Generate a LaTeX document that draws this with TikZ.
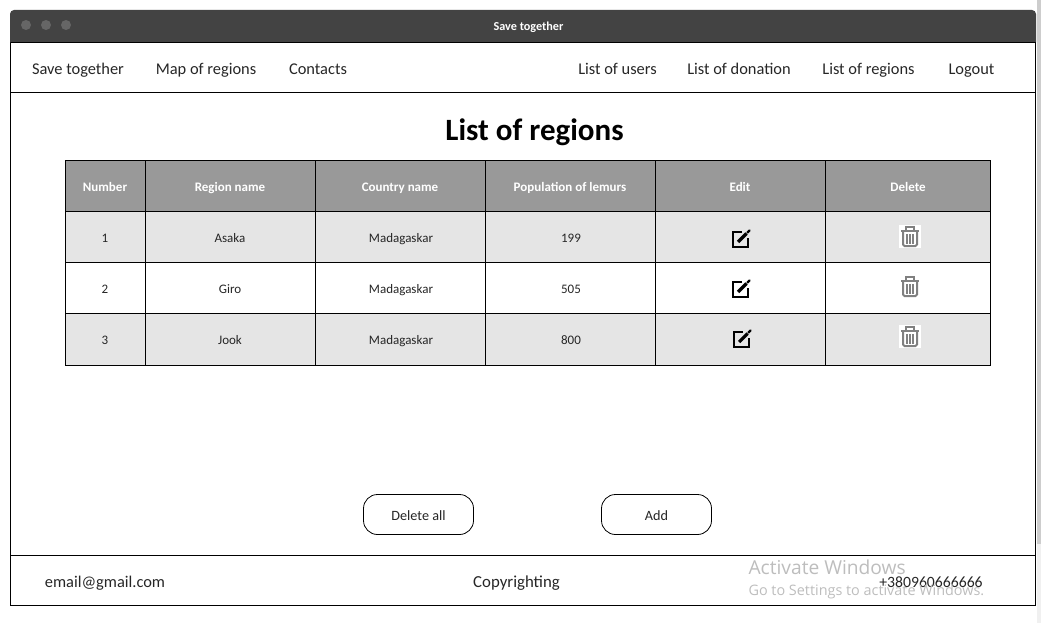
\documentclass[tikz,border=0pt]{standalone}
\usepackage{fontspec}
\usepackage{xcolor}
\setmainfont{Carlito}
\newfontfamily\winfont{Open Sans}
\definecolor{barcol}{HTML}{434343}
\definecolor{dotcol}{HTML}{666666}
\definecolor{headcol}{HTML}{999999}
\definecolor{rowcol}{HTML}{E5E5E5}
\definecolor{trashcol}{HTML}{808080}
\definecolor{wincol}{HTML}{BDBDBD}
\definecolor{scrollcol}{HTML}{CDCDCD}
\definecolor{tracecol}{HTML}{F0F0F0}
\tikzset{
    navlabel/.style={anchor=base, font=\fontsize{16.4}{18}\selectfont, text=black!85},
    headlabel/.style={anchor=base, font=\fontsize{13}{14}\selectfont\bfseries, text=white},
    celllabel/.style={anchor=base, font=\fontsize{13}{14}\selectfont, text=black!85},
    btn/.style={draw, thick, rounded corners=14pt, fill=white, minimum width=110pt, minimum height=40pt, text height=11.5pt, text depth=0pt, font=\fontsize{14.2}{15}\selectfont, text=black!85},
}
\begin{document}
\begin{tikzpicture}[x=1pt,y=-1pt,line width=1pt]
    \useasboundingbox (0,0) rectangle (1041,623);

    % scroll bar
    \fill[tracecol] (1036.5,0) rectangle (1041,623);
    \fill[scrollcol] (1036.5,0) rectangle (1041,544);

    % window
    \draw (10.5,42.5) rectangle (1035.5,605.5);
    \fill[barcol] (10,42.5) [rounded corners=4pt] -- (10,10) -- (1036,10) [sharp corners] -- (1036,42.5) -- cycle;
    \draw (10.5,42.5) -- (1035.5,42.5);
    \foreach \x in {26,46,66}
        \fill[dotcol] (\x,25) circle (5);
    \node[anchor=base, font=\fontsize{12.2}{14}\selectfont\bfseries, text=white] (wintitle) at (528.5,30.7) {Save together};

    % nav bar
    \draw (10.5,92.5) -- (1035.5,92.5);
    \node[navlabel] (navhome) at (78,74.7) {Save together};
    \node[navlabel] (navmap) at (206,74.7) {Map of regions};
    \node[navlabel] (navcontacts) at (318,74.7) {Contacts};
    \node[navlabel] (navusers) at (617.5,74.7) {List of users};
    \node[navlabel] (navdonation) at (739,74.7) {List of donation};
    \node[navlabel] (navregions) at (868.5,74.7) {List of regions};
    \node[navlabel] (navlogout) at (971.5,74.7) {Logout};

    \node[anchor=base, font=\fontsize{31}{34}\selectfont\bfseries] (pagetitle) at (534.5,140) {List of regions};

    % table
    \fill[headcol] (65,160) rectangle (990,211);
    \fill[rowcol] (65,211) rectangle (990,262);
    \fill[rowcol] (65,313) rectangle (990,365);
    \draw (65.5,160.5) rectangle (990.5,365.5);
    \foreach \y in {211.5,262.5,313.5}
        \draw (65.5,\y) -- (990.5,\y);
    \foreach \x in {145.5,315.5,485.5,655.5,825.5}
        \draw (\x,160.5) -- (\x,365.5);

    \node[headlabel] (headnumber) at (105,191) {Number};
    \node[headlabel] (headregion) at (230,191) {Region name};
    \node[headlabel] (headcountry) at (400,191) {Country name};
    \node[headlabel] (headlemurs) at (570,191) {Population of lemurs};
    \node[headlabel] (headedit) at (740,191) {Edit};
    \node[headlabel] (headdelete) at (908,191) {Delete};

    \foreach \y/\num/\region/\lemurs in {242/1/Asaka/199, 293/2/Giro/505, 344/3/Jook/800} {
        \node[celllabel] (num\num) at (105,\y) {\num};
        \node[celllabel] (region\num) at (230,\y) {\region};
        \node[celllabel] (country\num) at (401,\y) {Madagaskar};
        \node[celllabel] (lemurs\num) at (571,\y) {\lemurs};
    }

    % edit icons
    \foreach \x/\y in {741/239, 741/289, 742/339} {
        \draw[line width=2.2pt] (\x+1,\y-7) -- (\x-8,\y-7) -- (\x-8,\y+8) -- (\x+7,\y+8) -- (\x+7,\y-1);
        \draw[line width=3.2pt] (\x-3,\y+3) -- (\x+5.5,\y-5.5);
        \draw[line width=2.4pt, line cap=round] (\x+6.5,\y-6.5) -- (\x+8.5,\y-8.5);
    }

    % trash icons
    \fill[white] (899,225) rectangle (921,248);
    \fill[white] (899,325) rectangle (921,348);
    \foreach \y in {236.5,286.5,336.5} {
        \draw[trashcol, line width=2.2pt] (901,\y-5.5) -- (919,\y-5.5);
        \draw[trashcol, line width=1.6pt] (906,\y-6) -- (906,\y-9.5) -- (914,\y-9.5) -- (914,\y-6);
        \draw[trashcol, line width=2pt, rounded corners=1.5pt] (903,\y-4.5) -- (903,\y+9.5) -- (917,\y+9.5) -- (917,\y-4.5);
        \foreach \x in {907,910,913}
            \draw[trashcol, line width=1.2pt] (\x,\y-2.5) -- (\x,\y+7);
    }

    % buttons
    \node[btn] (btndelete) at (418.5,514.5) {Delete all};
    \node[btn] (btnadd) at (656.5,514.5) {Add};

    % footer
    \draw (10.5,555.5) -- (1035.5,555.5);
    \node[navlabel, font=\fontsize{16.4}{18}\selectfont] (footmail) at (105,587) {email@gmail.com};
    \node[navlabel, font=\fontsize{16.8}{18}\selectfont] (footcopy) at (516.5,587) {Copyrighting};
    \node[navlabel, font=\fontsize{15.7}{18}\selectfont] (footphone) at (931,587) {+380960666666};

    \node[anchor=base west, font=\winfont\fontsize{19.2}{22}\selectfont, text=wincol] (winactivate) at (744.7,574) {Activate Windows};
    \node[anchor=base west, font=\winfont\fontsize{14.4}{17}\selectfont, text=wincol] (winsettings) at (744.7,595) {Go to Settings to activate Windows.};
\end{tikzpicture}
\end{document}
